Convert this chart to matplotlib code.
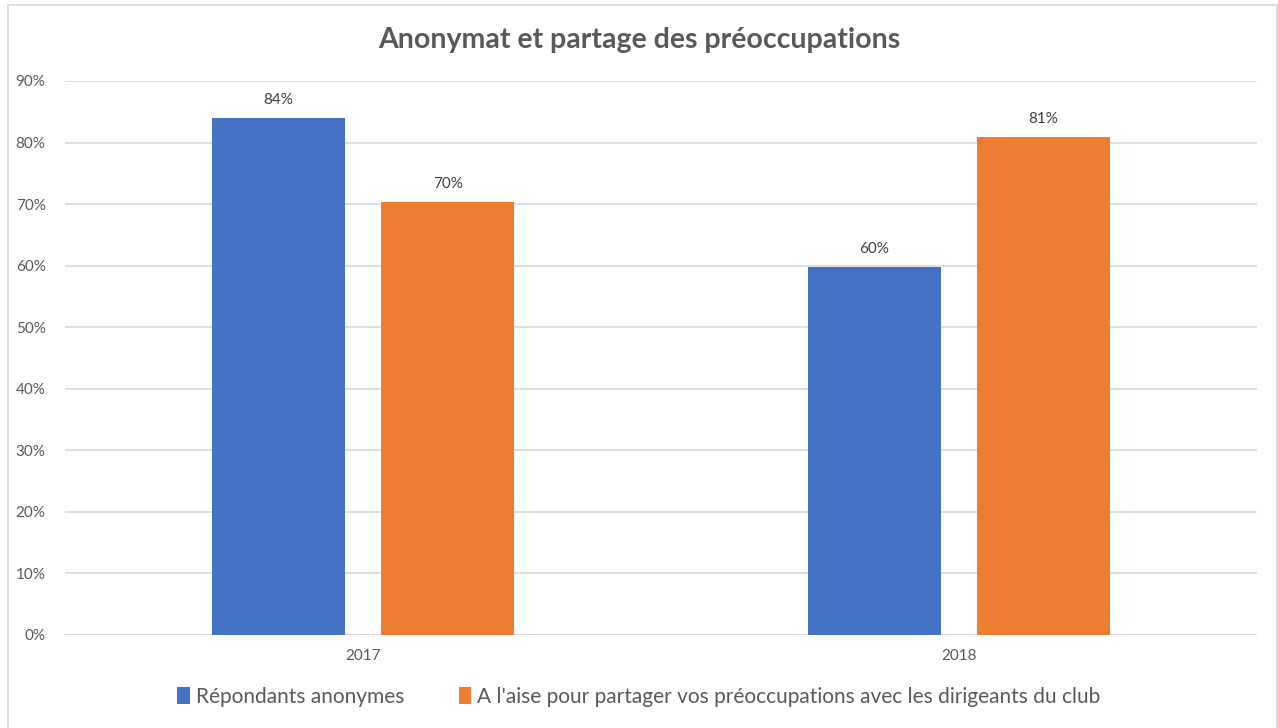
import matplotlib
matplotlib.use("Agg")
import matplotlib.pyplot as plt
import numpy as np
from matplotlib.patches import Rectangle

categories = ["2017", "2018"]
series_names = ["Répondants anonymes",
                "A l'aise pour partager vos préoccupations avec les dirigeants du club"]
anonymes = [84.0, 59.8]
a_l_aise = [70.4, 80.9]
colors = ["#4472C4", "#ED7D31"]
yticks = [0, 10, 20, 30, 40, 50, 60, 70, 80, 90]

plt.rcParams['font.family'] = ['Lato', 'DejaVu Sans']

W, H = 1278, 728
fig = plt.figure(figsize=(W / 100, H / 100), dpi=100)
fig.patch.set_facecolor("white")

# outer chart border (bottom edge falls outside the image)
fig.patches.append(Rectangle((8 / W, -0.01), (1277 - 8) / W, (H - 5) / H + 0.01,
                             transform=fig.transFigure, fill=False,
                             edgecolor="#D9D9D9", linewidth=1.2))

ax = fig.add_axes([65 / W, (H - 635) / H, (1257 - 65) / W, (635 - 81) / H])
x = np.arange(len(categories))
bw = 0.223
off = 0.142
text_col = "#595959"

for vals, name, c, o in [(anonymes, series_names[0], colors[0], -off),
                         (a_l_aise, series_names[1], colors[1], off)]:
    bars = ax.bar(x + o, vals, width=bw, color=c, label=name, zorder=3)
    for b, v in zip(bars, vals):
        ax.text(b.get_x() + b.get_width() / 2, v + 1.8, f"{round(v):d}%",
                ha="center", va="bottom", fontsize=11, color="#404040")

ax.set_xlim(-0.5, 1.5)
ax.set_ylim(0, 90)
ax.set_yticks(yticks)
ax.set_yticklabels([f"{t}%" for t in yticks], fontsize=11, color=text_col)
ax.set_xticks(x)
ax.set_xticklabels(categories, fontsize=11, color=text_col)
ax.tick_params(axis="both", length=0)
ax.tick_params(axis="y", pad=14)
ax.tick_params(axis="x", pad=10)
ax.yaxis.grid(True, color="#D9D9D9", linewidth=1.2, zorder=0)
for s in ax.spines.values():
    s.set_visible(False)
ax.axhline(0, color="#D9D9D9", linewidth=1.2, zorder=1)

fig.text(0.5, (H - 40) / H, "Anonymat et partage des préoccupations",
         ha="center", va="center", fontsize=20.5, fontweight="bold", color=text_col)

fig.legend(loc="center", bbox_to_anchor=(0.5, (H - 697) / H), ncol=2,
           frameon=False, fontsize=15, handlelength=0.6, handleheight=0.9,
           handletextpad=0.3, columnspacing=2.6, labelcolor=text_col)

fig.savefig("out.png", dpi=100, facecolor="white")
